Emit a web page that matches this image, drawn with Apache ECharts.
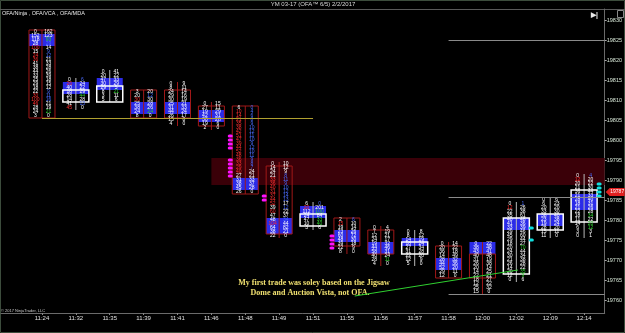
<!DOCTYPE html>
<html>
<head>
<meta charset="utf-8">
<script src="https://cdn.jsdelivr.net/npm/echarts@6/dist/echarts.min.js"></script>
<style>
  html, body { margin: 0; padding: 0; background: #000; }
  #main { width: 625px; height: 333px; }
</style>
</head>
<body>
<div id="main"></div>
<script>
// one footprint bar per time slot
const times = ['11:24', '11:32', '11:35', '11:39', '11:41', '11:46', '11:48', '11:49', '11:51',
  '11:55', '11:56', '11:57', '11:58', '12:00', '12:02', '12:09', '12:14'];
const highs = [19827, 19815, 19817, 19812, 19814, 19809, 19808, 19794, 19784, 19780, 19778, 19777, 19774, 19774, 19784, 19785, 19791];
const lows = [19806, 19808, 19810, 19806, 19804, 19803, 19787, 19776, 19778, 19772, 19769, 19769, 19766, 19762, 19765, 19776, 19776];
const opens = [19827, 19810, 19810, 19812, 19812, 19808, 19808, 19793, 19779, 19780, 19777, 19772, 19773, 19771, 19767, 19778, 19780];
const closes = [19806, 19812, 19813, 19806, 19806, 19804, 19787, 19777, 19781, 19774, 19772, 19774, 19766, 19766, 19780, 19781, 19787];
// high volume rows (blue)
const hvTop = [19826, 19814, 19815, 19809, 19809, 19807, 19790, 19780, 19783, 19777, 19774, 19775, 19770, 19774, 19780, 19781, 19786];
const hvBottom = [19824, 19812, 19813, 19807, 19807, 19805, 19788, 19777, 19781, 19775, 19772, 19774, 19768, 19772, 19778, 19779, 19783];

// bid x ask per price row, top (high) to bottom (low)
const bids = [
  [0, 152, 118, 28, 100, 15, 24, 36, 41, 38, 44, 33, 25, 29, 18, 22, 30, 100, 46, 28, 24, 3],
  [0, 26, 40, 18, 28, 14, 41, 45],
  [0, 20, 47, 30, 29, 8, 3, 5],
  [3, 20, 30, 25, 38, 24, 8],
  [0, 8, 24, 29, 30, 25, 31, 44, 26, 15, 4],
  [0, 27, 19, 42, 30, 19, 2],
  [6, 10, 14, 21, 35, 38, 42, 51, 47, 39, 44, 52, 48, 36, 33, 29, 40, 27, 31, 38, 45, 26],
  [0, 14, 24, 21, 33, 36, 40, 31, 37, 44, 52, 39, 60, 47, 48, 104, 64, 38, 22],
  [6, 20, 112, 24, 47, 10, 3],
  [2, 15, 19, 23, 60, 48, 39, 22, 8],
  [0, 7, 12, 24, 19, 44, 58, 40, 28, 4],
  [0, 8, 14, 18, 27, 31, 22, 12, 5],
  [0, 20, 36, 14, 28, 44, 52, 29, 12],
  [0, 38, 43, 40, 31, 26, 20, 14, 22, 18, 12, 25, 15],
  [0, 12, 22, 35, 40, 41, 33, 29, 45, 29, 18, 20, 24, 30, 21, 26, 14, 20, 12, 0],
  [0, 6, 20, 33, 38, 23, 19, 28, 15, 11],
  [0, 12, 20, 21, 36, 21, 28, 18, 21, 22, 18, 11, 14, 6, 3, 0]
];
const asks = [
  [162, 123, 93, 29, 14, 9, 12, 21, 33, 28, 26, 39, 18, 15, 12, 9, 11, 16, 21, 19, 21, 0],
  [6, 24, 22, 29, 44, 28, 13, 0],
  [41, 22, 33, 29, 5, 21, 11, 6],
  [20, 12, 30, 28, 26, 24, 0],
  [9, 11, 14, 16, 19, 21, 33, 24, 17, 8, 0],
  [15, 11, 29, 31, 28, 6, 0],
  [0, 4, 6, 8, 9, 10, 12, 11, 10, 9, 12, 10, 11, 9, 8, 7, 24, 21, 33, 37, 28, 0],
  [10, 12, 9, 8, 11, 9, 10, 12, 14, 13, 17, 12, 22, 37, 34, 44, 82, 21, 0],
  [0, 201, 100, 84, 33, 40, 6],
  [6, 10, 14, 26, 72, 30, 18, 9, 0],
  [4, 19, 21, 17, 32, 46, 31, 24, 11, 0],
  [8, 12, 19, 24, 34, 28, 20, 9, 0],
  [14, 22, 18, 49, 32, 36, 20, 11, 0],
  [22, 48, 41, 48, 19, 38, 14, 25, 21, 27, 22, 32, 0],
  [1, 26, 38, 61, 48, 36, 39, 46, 60, 44, 27, 70, 44, 34, 38, 28, 22, 35, 9, 6],
  [6, 23, 20, 30, 40, 38, 24, 20, 11, 0],
  [4, 20, 22, 30, 44, 33, 40, 31, 26, 28, 34, 22, 20, 12, 3, 1]
];

const priceTicks = [19760, 19765, 19770, 19775, 19780, 19785, 19790, 19795, 19800, 19805, 19810, 19815, 19820, 19825, 19830];
// stacked imbalance markers: [bar, top price, bottom price]
const sellStacks = [[6, 19801, 19798], [6, 19795, 19791], [7, 19786, 19785], [9, 19776, 19773]];
const buyStacks = [[14, 19778, 19778], [14, 19775, 19775], [16, 19789, 19786]];
const swingLevel = 19805.5;
const refLevels = [19825, 19785.75, 19761.5];
const supplyZone = [19795.5, 19788.75];
const lastPrice = 19787;
const tradeArrow = [[9.23, 19761], [14.05, 19767.5]];

const X_MIN = -1.2094, X_MAX = 16.608;
const chart = echarts.init(document.getElementById('main'));

function renderFootprint(params, api) {
  const i = api.value(0);
  const hi = highs[i], lo = lows[i], op = opens[i], cl = closes[i];
  const cx = api.coord([i, hi])[0];
  const half = 13;
  const up = cl >= op;
  const y = p => api.coord([i, p])[1];
  const kids = [];
  kids.push({
    type: 'rect',
    shape: { x: cx - half, y: y(hvTop[i] + 0.5), width: half * 2, height: y(hvBottom[i] - 0.5) - y(hvTop[i] + 0.5) },
    style: { fill: '#2b2be8' }
  });
  kids.push({
    type: 'line',
    shape: { x1: cx, y1: y(hi + 0.5), x2: cx, y2: y(lo - 0.5) },
    style: { stroke: up ? '#b8b8b8' : '#a01818', lineWidth: 1 }
  });
  const bt = y(Math.max(op, cl) + 0.5), bb = y(Math.min(op, cl) - 0.5);
  kids.push({
    type: 'rect',
    shape: { x: cx - half, y: bt, width: half * 2, height: bb - bt },
    style: { fill: 'none', stroke: up ? '#ffffff' : '#a01818', lineWidth: up ? 1.5 : 1 }
  });
  const b = bids[i], a = asks[i];
  b.forEach((bv, k) => {
    const yy = y(hi - k);
    const av = a[k];
    let lc = '#ffffff', rc = '#ffffff';
    if (k > 0 && bv >= 2.5 * Math.max(a[k - 1], 1) && bv > 8) lc = '#ff3030';
    if (k < b.length - 1 && av >= 2.5 * Math.max(b[k + 1], 1) && av > 8) rc = '#30d030';
    else if (k < b.length - 1 && av * 2.5 <= b[k + 1] && b[k + 1] > 8) rc = '#4a6cff';
    kids.push({ type: 'text', style: { x: cx - 6.5, y: yy, text: String(bv), fill: lc, font: '5px "Liberation Sans"', align: 'center', verticalAlign: 'middle' } });
    kids.push({ type: 'text', style: { x: cx + 6.5, y: yy, text: String(av), fill: rc, font: '5px "Liberation Sans"', align: 'center', verticalAlign: 'middle' } });
  });
  return { type: 'group', children: kids };
}

function renderStack(color, side) {
  return function (params, api) {
    const i = api.value(0), top = api.value(1), bot = api.value(2);
    const cx = api.coord([i, top])[0] + side * 15;
    const kids = [];
    for (let p = top; p >= bot; p--) {
      const yy = api.coord([i, p])[1];
      kids.push({ type: 'rect', shape: { x: cx - 2.5, y: yy - 1.6, width: 5, height: 3.2, r: 1.5 }, style: { fill: color } });
    }
    return { type: 'group', children: kids };
  };
}

const textFont = '"Liberation Sans", Arial, sans-serif';
const noteFont = '"Liberation Serif", "DejaVu Serif", serif';

chart.setOption({
  backgroundColor: '#000',
  animation: false,
  grid: { left: 1, right: 20, top: 9, bottom: 20 },
  xAxis: {
    type: 'value',
    min: X_MIN,
    max: X_MAX,
    splitLine: { show: false },
    axisLine: { onZero: false, lineStyle: { color: '#6a6a6a' } },
    axisTick: { customValues: times.map((t, i) => i), length: 2, lineStyle: { color: '#888' } },
    axisLabel: {
      customValues: times.map((t, i) => i),
      formatter: v => times[v],
      color: '#e0e0e0', fontSize: 6, fontFamily: textFont, margin: 2
    }
  },
  yAxis: {
    type: 'value',
    position: 'right',
    min: 19756.75,
    max: 19832.75,
    splitLine: { show: false },
    axisLine: { show: true, onZero: false, lineStyle: { color: '#6a6a6a' } },
    axisTick: { customValues: priceTicks, length: 2, lineStyle: { color: '#aaa' } },
    axisLabel: {
      customValues: priceTicks,
      formatter: v => String(v),
      color: '#d8e8d8', fontSize: 5.5, fontFamily: textFont, margin: 2
    }
  },
  series: [
    {
      type: 'line',
      data: [],
      z: 1,
      markArea: {
        silent: true,
        itemStyle: { color: '#3a0008' },
        data: [[{ coord: [5, supplyZone[0]] }, { coord: [X_MAX, supplyZone[1]] }]]
      },
      markLine: {
        silent: true,
        symbol: 'none',
        label: { show: false },
        data: [
          [{ coord: [0, swingLevel], lineStyle: { color: '#b0a030', width: 1, type: 'solid' } }, { coord: [8, swingLevel] }],
          ...refLevels.map(p => [{ coord: [12, p], lineStyle: { color: '#8a8a8a', width: 1, type: 'solid' } }, { coord: [X_MAX, p] }]),
          [{ coord: tradeArrow[0], lineStyle: { color: '#30d030', width: 1, type: 'solid' } }, { coord: tradeArrow[1] }]
        ]
      }
    },
    {
      type: 'custom',
      z: 3,
      renderItem: renderFootprint,
      encode: { x: 0, y: [1, 2] },
      data: times.map((t, i) => [i, highs[i], lows[i]])
    },
    {
      type: 'custom',
      z: 4,
      renderItem: renderStack('#ff10ff', -1),
      encode: { x: 0, y: [1, 2] },
      data: sellStacks
    },
    {
      type: 'custom',
      z: 4,
      renderItem: renderStack('#10e0e0', 1),
      encode: { x: 0, y: [1, 2] },
      data: buyStacks
    }
  ],
  graphic: [
    { type: 'rect', shape: { x: 0.5, y: 0.5, width: 624, height: 332 }, style: { fill: 'none', stroke: '#3c4c3c' }, z: 0 },
    { type: 'line', shape: { x1: 0, y1: 9.5, x2: 625, y2: 9.5 }, style: { stroke: '#5a5a5a' } },
    { type: 'text', x: 313, y: 4.5, style: { text: 'YM 03-17 (OFA\u2122 6/5) 2/2/2017', fill: '#d8d8d8', font: '6px ' + textFont, align: 'center', verticalAlign: 'middle' } },
    { type: 'text', x: 2, y: 13.5, style: { text: 'OFA/Ninja , OFA/VCA , OFA/MDA', fill: '#e8e8e8', font: '5.5px ' + textFont, verticalAlign: 'middle' } },
    { type: 'text', x: 591, y: 15, style: { text: '\u25B6|', fill: '#e8e8e8', font: 'bold 7px ' + textFont, verticalAlign: 'middle' } },
    { type: 'rect', shape: { x: 617.5, y: 10.5, width: 6, height: 7 }, style: { fill: 'none', stroke: '#888' } },
    { type: 'text', x: 1, y: 310.5, style: { text: '\u00A9 2017 NinjaTrader, LLC', fill: '#c8c8c8', font: '4px ' + textFont, verticalAlign: 'middle' } },
    { type: 'text', x: 516, y: 172.5, style: { text: 'Supply', fill: '#f0e070', font: 'bold 9px ' + noteFont, align: 'center', verticalAlign: 'middle' } },
    { type: 'text', x: 314, y: 283, style: { text: 'My first trade was soley based on the Jigsaw', fill: '#f0e070', font: 'bold 8px ' + noteFont, align: 'center', verticalAlign: 'middle' } },
    { type: 'text', x: 310, y: 293, style: { text: 'Dome and Auction Vista, not OFA.', fill: '#f0e070', font: 'bold 8px ' + noteFont, align: 'center', verticalAlign: 'middle' } }
  ]
});

// last price tag on the price scale
const tagPos = chart.convertToPixel({ gridIndex: 0 }, [X_MAX, lastPrice]);
chart.setOption({
  graphic: [
    {
      id: 'tag',
      type: 'polygon',
      shape: { points: [[tagPos[0] + 1, tagPos[1]], [tagPos[0] + 5, tagPos[1] - 4], [tagPos[0] + 20, tagPos[1] - 4], [tagPos[0] + 20, tagPos[1] + 4], [tagPos[0] + 5, tagPos[1] + 4]] },
      style: { fill: '#e02020' },
      z: 10
    },
    {
      id: 'tagText',
      type: 'text',
      x: tagPos[0] + 12.5, y: tagPos[1],
      style: { text: String(lastPrice), fill: '#fff', font: '5px ' + textFont, align: 'center', verticalAlign: 'middle' },
      z: 11
    }
  ]
});
</script>
</body>
</html>
